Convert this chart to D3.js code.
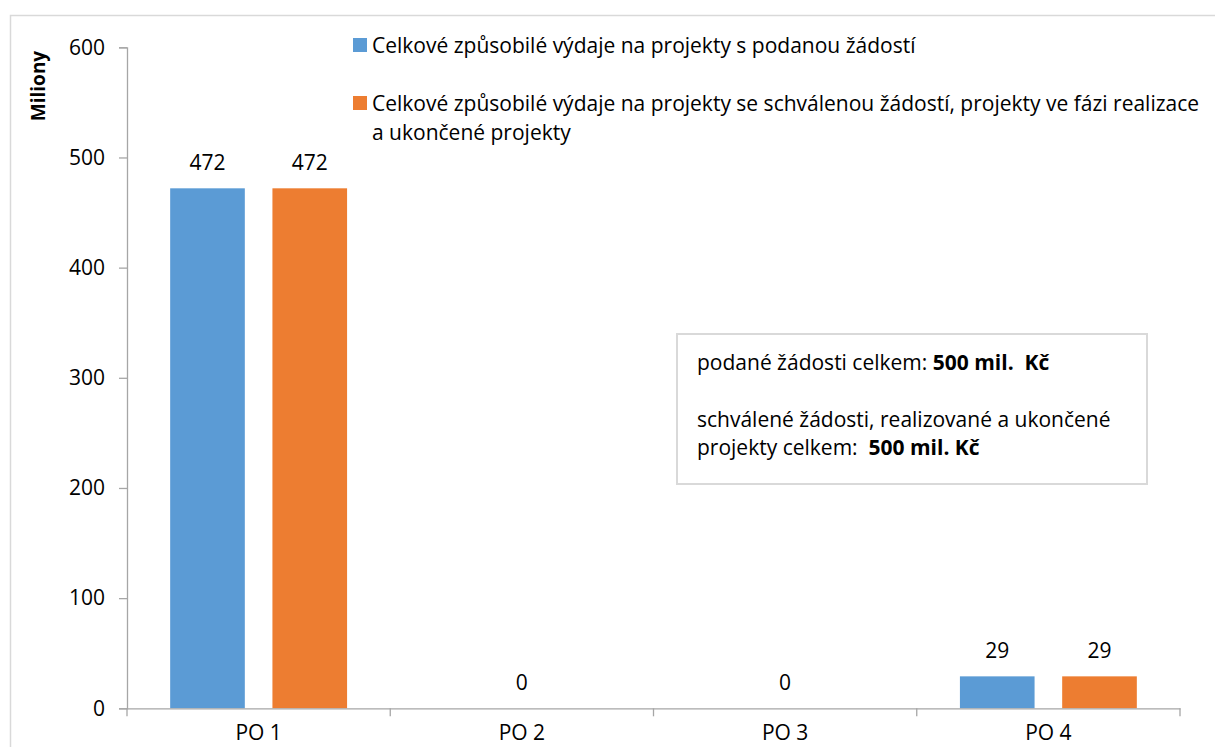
<!DOCTYPE html>
<html>
<head>
<meta charset="utf-8">
<script src="https://cdn.jsdelivr.net/npm/d3@7"></script>
<style>
  body { margin: 0; background: #fff; }
  svg text { font-family: "Open Sans", Lato, sans-serif; fill: #000; }
</style>
</head>
<body>
<div class="mainContainer"></div>
<script>
// data
var categories = ['PO 1', 'PO 2', 'PO 3', 'PO 4'];
var seriesNames = [
  'Celkové způsobilé výdaje na projekty s podanou žádostí',
  'Celkové způsobilé výdaje na projekty se schválenou žádostí, projekty ve fázi realizace a ukončené projekty'
];
var podane = [472, 0, 0, 29];
var schvalene = [472, 0, 0, 29];
var yTicks = [0, 100, 200, 300, 400, 500, 600];
var colors = ['#5b9bd5', '#ed7d31'];

var W = 1215, H = 747, fs = '21px';
var svg = d3.select('.mainContainer').append('svg').attr('width', W).attr('height', H);

// outer chart frame (runs off the right and bottom edges)
svg.append('rect').attr('x', 10.5).attr('y', 15.5).attr('width', W).attr('height', H)
  .style('fill', 'none').style('stroke', '#d9d9d9').style('stroke-width', 1.5);

var plotLeft = 127, plotRight = 1180, plotTop = 47.3, plotBottom = 708.3;

var y = d3.scaleLinear().domain([0, 600]).range([plotBottom, plotTop]);
var x0 = d3.scaleBand().domain(categories).range([plotLeft, plotRight]).padding(0);
var bw = x0.bandwidth();
var x1 = d3.scaleBand().domain([0, 1]).range([bw * 0.164, bw * 0.836]).paddingInner(0.27);

// bars
var series = [podane, schvalene];
series.forEach(function(vals, s) {
  svg.append('g').selectAll('rect').data(vals).enter().append('rect')
    .attr('x', function(d, i) { return x0(categories[i]) + x1(s); })
    .attr('y', function(d) { return y(d); })
    .attr('width', x1.bandwidth())
    .attr('height', function(d) { return y(0) - y(d); })
    .style('fill', colors[s]);
});

// value labels (a zero group gets one label in the middle)
series.forEach(function(vals, s) {
  vals.forEach(function(d, i) {
    if (d === 0 && s === 1) return;
    var cx = d === 0 ? x0(categories[i]) + bw / 2 : x0(categories[i]) + x1(s) + x1.bandwidth() / 2;
    svg.append('text').attr('x', cx).attr('y', y(d) - 18)
      .attr('text-anchor', 'middle').style('font-size', fs).text(d);
  });
});

// y axis
var yAxis = svg.append('g').attr('transform', 'translate(' + plotLeft + ',0)')
  .call(d3.axisLeft(y).tickValues(yTicks).tickSize(8).tickPadding(14));
yAxis.select('.domain').style('stroke', '#a6a6a6').style('stroke-width', 1.3);
yAxis.selectAll('.tick line').style('stroke', '#a6a6a6').style('stroke-width', 1.3);
yAxis.selectAll('.tick text').style('font-size', fs).style('font-family', '"Open Sans", sans-serif').style('fill', '#000');

// x axis
var xAxis = svg.append('g').attr('transform', 'translate(0,' + plotBottom + ')')
  .call(d3.axisBottom(x0).tickSize(0).tickPadding(0));
xAxis.select('.domain').style('stroke', '#a6a6a6').style('stroke-width', 1.3);
xAxis.selectAll('.tick text').attr('y', 32).attr('dy', 0).style('font-size', fs)
  .style('font-family', '"Open Sans", sans-serif').style('fill', '#000');
var edges = categories.map(function(c) { return x0(c); }).concat([plotRight]);
svg.append('g').selectAll('line').data(edges).enter().append('line')
  .attr('x1', function(d) { return d; }).attr('x2', function(d) { return d; })
  .attr('y1', plotBottom).attr('y2', plotBottom + 8)
  .style('stroke', '#a6a6a6').style('stroke-width', 1.3);

// axis title
svg.append('text').attr('transform', 'translate(45,86) rotate(-90)')
  .attr('text-anchor', 'middle').style('font-size', '19px').style('font-weight', 'bold').text('Miliony');

// legend
var leg = svg.append('g');
leg.append('rect').attr('x', 353).attr('y', 38).attr('width', 14).attr('height', 14).style('fill', colors[0]);
leg.append('text').attr('x', 372).attr('y', 53).style('font-size', fs).text(seriesNames[0]);
leg.append('rect').attr('x', 353).attr('y', 96).attr('width', 14).attr('height', 14).style('fill', colors[1]);
leg.append('text').attr('x', 372).attr('y', 111).style('font-size', fs)
  .text('Celkové způsobilé výdaje na projekty se schválenou žádostí, projekty ve fázi realizace');
leg.append('text').attr('x', 372).attr('y', 140).style('font-size', fs).text('a ukončené projekty');

// annotation box
var box = svg.append('g');
box.append('rect').attr('x', 677).attr('y', 334).attr('width', 470).attr('height', 150)
  .style('fill', '#fff').style('stroke', '#d9d9d9').style('stroke-width', 2);
var t1 = box.append('text').attr('x', 697).attr('y', 370).style('font-size', fs);
t1.append('tspan').text('podané žádosti celkem: ');
t1.append('tspan').style('font-weight', 'bold').text('500 mil.\u00a0 Kč');
box.append('text').attr('x', 697).attr('y', 427).style('font-size', fs).text('schválené žádosti, realizované a ukončené');
var t3 = box.append('text').attr('x', 697).attr('y', 455).style('font-size', fs);
t3.append('tspan').text('projekty celkem:\u00a0 ');
t3.append('tspan').style('font-weight', 'bold').text('500 mil. Kč');
</script>
</body>
</html>
